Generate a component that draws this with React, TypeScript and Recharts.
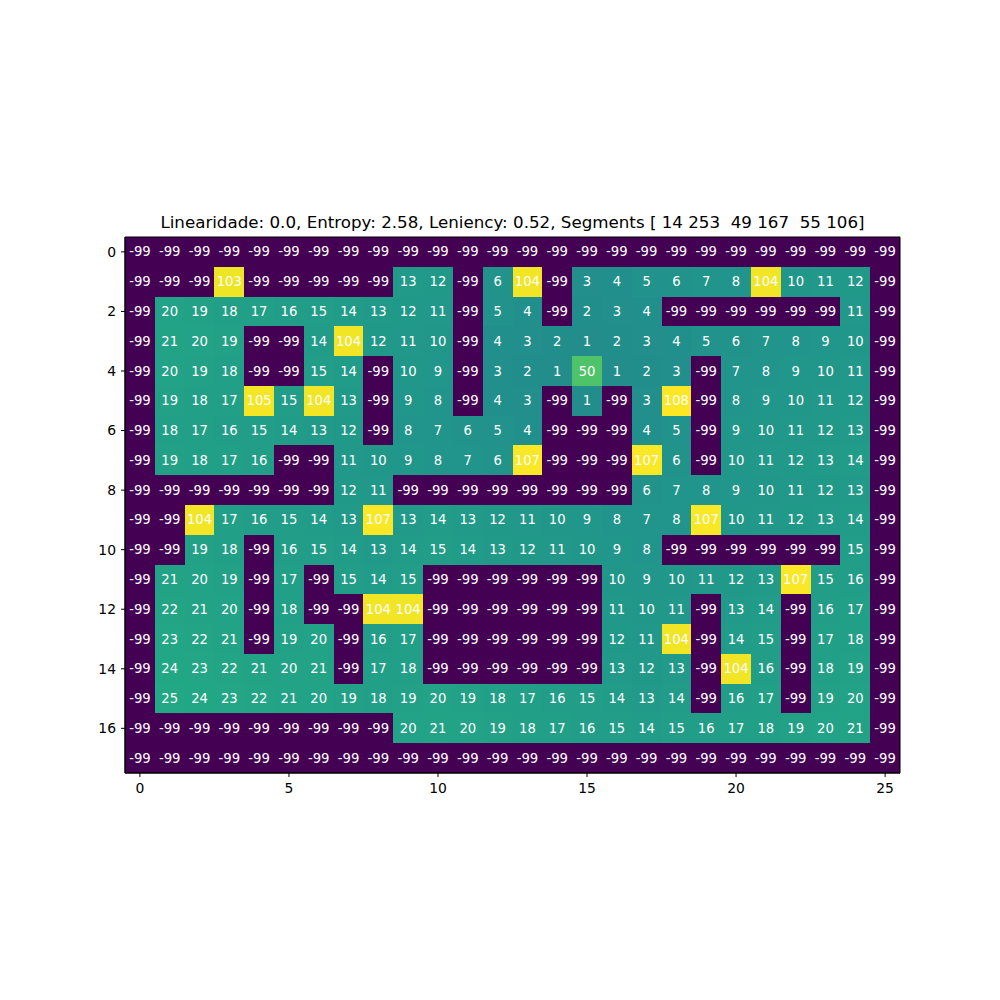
import React from "react";
import { ScatterChart, Scatter, XAxis, YAxis, ReferenceArea } from "recharts";

const title = "Linearidade: 0.0, Entropy: 2.58, Leniency: 0.52, Segments [ 14 253  49 167  55 106]";

const xTicks = [0, 5, 10, 15, 20, 25];
const yTicks = [0, 2, 4, 6, 8, 10, 12, 14, 16];

// one row per line of the level grid, -99 = wall
const levelRows: number[][] = [
  [-99, -99, -99, -99, -99, -99, -99, -99, -99, -99, -99, -99, -99, -99, -99, -99, -99, -99, -99, -99, -99, -99, -99, -99, -99, -99],
  [-99, -99, -99, 103, -99, -99, -99, -99, -99, 13, 12, -99, 6, 104, -99, 3, 4, 5, 6, 7, 8, 104, 10, 11, 12, -99],
  [-99, 20, 19, 18, 17, 16, 15, 14, 13, 12, 11, -99, 5, 4, -99, 2, 3, 4, -99, -99, -99, -99, -99, -99, 11, -99],
  [-99, 21, 20, 19, -99, -99, 14, 104, 12, 11, 10, -99, 4, 3, 2, 1, 2, 3, 4, 5, 6, 7, 8, 9, 10, -99],
  [-99, 20, 19, 18, -99, -99, 15, 14, -99, 10, 9, -99, 3, 2, 1, 50, 1, 2, 3, -99, 7, 8, 9, 10, 11, -99],
  [-99, 19, 18, 17, 105, 15, 104, 13, -99, 9, 8, -99, 4, 3, -99, 1, -99, 3, 108, -99, 8, 9, 10, 11, 12, -99],
  [-99, 18, 17, 16, 15, 14, 13, 12, -99, 8, 7, 6, 5, 4, -99, -99, -99, 4, 5, -99, 9, 10, 11, 12, 13, -99],
  [-99, 19, 18, 17, 16, -99, -99, 11, 10, 9, 8, 7, 6, 107, -99, -99, -99, 107, 6, -99, 10, 11, 12, 13, 14, -99],
  [-99, -99, -99, -99, -99, -99, -99, 12, 11, -99, -99, -99, -99, -99, -99, -99, -99, 6, 7, 8, 9, 10, 11, 12, 13, -99],
  [-99, -99, 104, 17, 16, 15, 14, 13, 107, 13, 14, 13, 12, 11, 10, 9, 8, 7, 8, 107, 10, 11, 12, 13, 14, -99],
  [-99, -99, 19, 18, -99, 16, 15, 14, 13, 14, 15, 14, 13, 12, 11, 10, 9, 8, -99, -99, -99, -99, -99, -99, 15, -99],
  [-99, 21, 20, 19, -99, 17, -99, 15, 14, 15, -99, -99, -99, -99, -99, -99, 10, 9, 10, 11, 12, 13, 107, 15, 16, -99],
  [-99, 22, 21, 20, -99, 18, -99, -99, 104, 104, -99, -99, -99, -99, -99, -99, 11, 10, 11, -99, 13, 14, -99, 16, 17, -99],
  [-99, 23, 22, 21, -99, 19, 20, -99, 16, 17, -99, -99, -99, -99, -99, -99, 12, 11, 104, -99, 14, 15, -99, 17, 18, -99],
  [-99, 24, 23, 22, 21, 20, 21, -99, 17, 18, -99, -99, -99, -99, -99, -99, 13, 12, 13, -99, 104, 16, -99, 18, 19, -99],
  [-99, 25, 24, 23, 22, 21, 20, 19, 18, 19, 20, 19, 18, 17, 16, 15, 14, 13, 14, -99, 16, 17, -99, 19, 20, -99],
  [-99, -99, -99, -99, -99, -99, -99, -99, -99, 20, 21, 20, 19, 18, 17, 16, 15, 14, 15, 16, 17, 18, 19, 20, 21, -99],
  [-99, -99, -99, -99, -99, -99, -99, -99, -99, -99, -99, -99, -99, -99, -99, -99, -99, -99, -99, -99, -99, -99, -99, -99, -99, -99],
];

const viridisStops = [
  "#440154", "#482475", "#414487", "#355f8d", "#2a788e", "#21918c",
  "#22a884", "#44bf70", "#7ad151", "#bddf26", "#fde725",
];

const nRows = levelRows.length;
const nCols = levelRows[0].length;
const allValues = levelRows.flat();
const vMin = Math.min(...allValues);
const vMax = Math.max(...allValues);

function hexToRgb(h: string) {
  return [1, 3, 5].map((i) => parseInt(h.slice(i, i + 2), 16));
}

function viridis(v: number) {
  const t = Math.max(0, Math.min(1, (v - vMin) / (vMax - vMin)));
  const pos = t * (viridisStops.length - 1);
  const i = Math.min(Math.floor(pos), viridisStops.length - 2);
  const f = pos - i;
  const a = hexToRgb(viridisStops[i]);
  const b = hexToRgb(viridisStops[i + 1]);
  const c = a.map((x, k) => Math.round(x + (b[k] - x) * f));
  return `rgb(${c[0]},${c[1]},${c[2]})`;
}

const cells = levelRows.flatMap((row, r) =>
  row.map((value, c) => ({ x: c, y: r, value, color: viridis(value) }))
);

const font = "'DejaVu Sans', sans-serif";

const CellLabel = (props: any) => {
  const { cx, cy, payload } = props;
  if (cx == null || cy == null) return null;
  return (
    <text
      x={cx}
      y={cy}
      textAnchor="middle"
      dominantBaseline="central"
      fill="#fff"
      fontSize={13.2}
      fontFamily={font}
    >
      {payload.value}
    </text>
  );
};

export default function App() {
  return (
    <div style={{ position: "absolute", left: 0, top: 0, width: 1000, height: 1000, background: "#fff" }}>
      <div
        style={{
          position: "absolute",
          left: 0,
          width: 1025,
          top: 214,
          textAlign: "center",
          fontFamily: font,
          fontSize: 16.7,
          lineHeight: "16.7px",
          whiteSpace: "pre",
          color: "#000",
        }}
      >
        {title}
      </div>
      <ScatterChart
        width={1000}
        height={1000}
        margin={{ top: 237, right: 100, bottom: 197, left: 85 }}
      >
        <XAxis
          type="number"
          dataKey="x"
          domain={[-0.5, nCols - 0.5]}
          allowDataOverflow
          ticks={xTicks}
          interval={0}
          height={30}
          tickSize={4}
          tickMargin={6}
          axisLine={{ stroke: "#000" }}
          tickLine={{ stroke: "#000" }}
          tick={{ fill: "#000", fontSize: 13.9, fontFamily: font }}
        />
        <YAxis
          type="number"
          dataKey="y"
          domain={[-0.5, nRows - 0.5]}
          allowDataOverflow
          reversed
          ticks={yTicks}
          interval={0}
          width={40}
          tickSize={4}
          tickMargin={5}
          axisLine={{ stroke: "#000" }}
          tickLine={{ stroke: "#000" }}
          tick={{ fill: "#000", fontSize: 13.9, fontFamily: font }}
        />
        {cells.map((d) => (
          <ReferenceArea
            key={`${d.x}-${d.y}`}
            x1={d.x - 0.5}
            x2={d.x + 0.5}
            y1={d.y - 0.5}
            y2={d.y + 0.5}
            fill={d.color}
            fillOpacity={1}
            stroke="none"
            shapeRendering="crispEdges"
          />
        ))}
        <ReferenceArea
          x1={-0.5}
          x2={nCols - 0.5}
          y1={-0.5}
          y2={nRows - 0.5}
          fill="none"
          stroke="#000"
          strokeWidth={1}
        />
        <Scatter data={cells} shape={<CellLabel />} isAnimationActive={false} />
      </ScatterChart>
    </div>
  );
}
